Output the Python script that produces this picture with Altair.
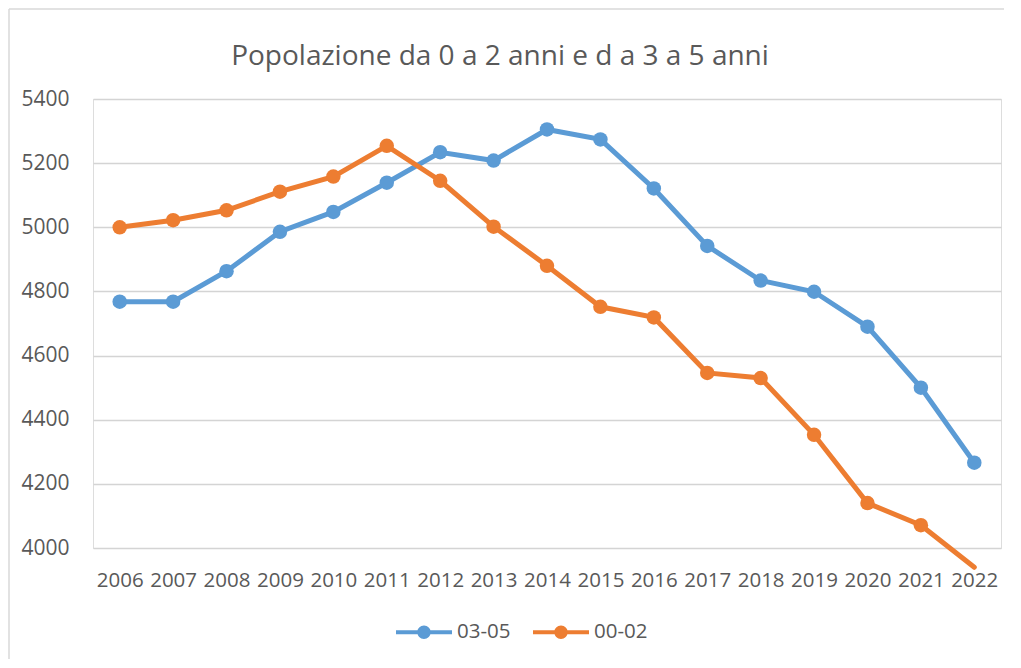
import altair as alt
import pandas as pd

years = [str(y) for y in range(2006, 2023)]
s_03_05 = [4768, 4768, 4863, 4986, 5048, 5139, 5234, 5208, 5305, 5274, 5121, 4942, 4834, 4799, 4690, 4500, 4266]
s_00_02 = [5000, 5022, 5053, 5111, 5158, 5254, 5145, 5002, 4880, 4752, 4719, 4546, 4530, 4353, 4140, 4071, 3940]
series_names = ["03-05", "00-02"]
colors = ["#5B9BD5", "#ED7D31"]
title_text = "Popolazione da 0 a 2 anni e d a 3 a 5 anni"

rows = []
for name, vals in zip(series_names, [s_03_05, s_00_02]):
    for y, v in zip(years, vals):
        rows.append({"anno": y, "serie": name, "valore": v})
df = pd.DataFrame(rows)

FONT = "Open Sans"
TXT = "#595959"

x = alt.X("anno:O", sort=years, title=None,
          scale=alt.Scale(type="point", padding=0.5),
          axis=alt.Axis(labelAngle=0, labelFontSize=20.5, labelFont=FONT, labelColor=TXT,
                        ticks=False, domain=False, grid=False, labelPadding=22))
y = alt.Y("valore:Q", title=None,
          scale=alt.Scale(domain=[4000, 5400], nice=False, zero=False),
          axis=alt.Axis(values=[4000, 4200, 4400, 4600, 4800, 5000, 5200, 5400], format="d",
                        labelFontSize=21, labelFont=FONT, labelColor=TXT,
                        ticks=False, domain=False, labelPadding=24,
                        grid=True, gridColor="#D4D4D4", gridWidth=1.5))

legend_path = ("M-1,-0.075 L1,-0.075 L1,0.075 L-1,0.075 Z "
               "M0.24,0 A0.24,0.24 0 1,1 -0.24,0 A0.24,0.24 0 1,1 0.24,0 Z")
legend = alt.Legend(orient="none", direction="horizontal", legendX=303, legendY=505,
                    symbolType=legend_path, symbolSize=3136, symbolStrokeWidth=0,
                    labelFont=FONT, labelFontSize=20.5, labelColor=TXT,
                    labelOffset=5, columnPadding=22, symbolOpacity=1)
color = alt.Color("serie:N", scale=alt.Scale(domain=series_names, range=colors),
                  title=None, sort=series_names, legend=legend)

base = alt.Chart(df)
one = pd.DataFrame({"k": [0]})

border_top = alt.Chart(one).mark_rule(stroke="#D9D9D9", strokeWidth=1.5, clip=False).encode(
    x=alt.value(-84), x2=alt.value(911), y=alt.value(-90))
border_left = alt.Chart(one).mark_rule(stroke="#D9D9D9", strokeWidth=1.5, clip=False).encode(
    x=alt.value(-84), y=alt.value(-90), y2=alt.value(560))

title = alt.Chart(pd.DataFrame({"t": [title_text]})).mark_text(
    font=FONT, fontSize=28, color=TXT, align="center", baseline="middle"
).encode(text="t:N", x=alt.value(407), y=alt.value(-42))

lines = base.mark_line(strokeWidth=5, clip=False, strokeCap="round").encode(
    x=x, y=y, color=color, detail="serie:N")

points = base.transform_filter("datum.valore >= 4000").mark_point(
    filled=True, size=210, opacity=1).encode(x=x, y=y, color=color)

chart = alt.layer(border_top, border_left, title, lines, points).properties(
    width=908, height=449,
    padding={"left": 85, "top": 91, "right": 12, "bottom": 112},
    autosize=alt.AutoSizeParams(type="none"),
).configure_view(stroke=None).configure(background="white")

chart.save("out.html", embed_options={"renderer": "svg", "actions": False})
